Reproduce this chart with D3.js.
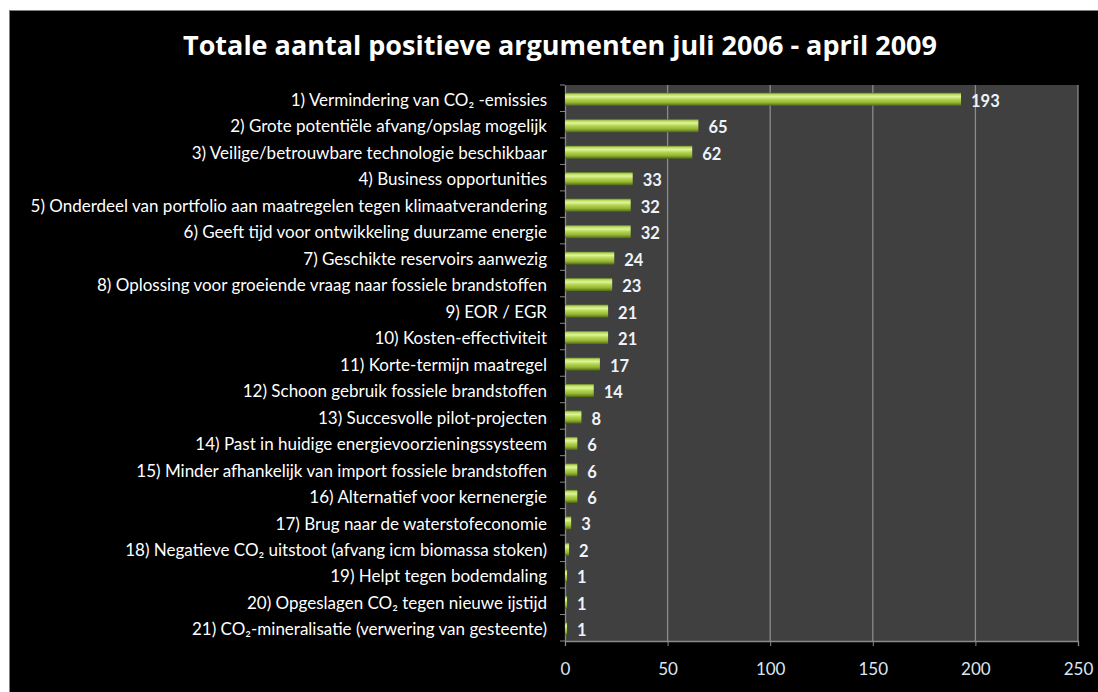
<!DOCTYPE html>
<html><head><meta charset="utf-8">
<script src="https://cdn.jsdelivr.net/npm/d3@7"></script>
<style>html,body{margin:0;padding:0;background:#fff;}svg{display:block;}</style>
</head><body>
<script>
const categories = [
 "1) Vermindering van CO₂ -emissies",
 "2) Grote potentiële afvang/opslag  mogelijk",
 "3) Veilige/betrouwbare technologie beschikbaar",
 "4) Business opportunities",
 "5) Onderdeel van portfolio aan  maatregelen tegen klimaatverandering",
 "6) Geeft tijd voor ontwikkeling duurzame energie",
 "7) Geschikte reservoirs aanwezig",
 "8) Oplossing voor groeiende vraag naar fossiele brandstoffen",
 "9) EOR / EGR",
 "10) Kosten-effectiviteit",
 "11) Korte-termijn maatregel",
 "12) Schoon gebruik fossiele brandstoffen",
 "13) Succesvolle pilot-projecten",
 "14) Past in huidige energievoorzieningssysteem",
 "15) Minder afhankelijk van import fossiele brandstoffen",
 "16) Alternatief voor kernenergie",
 "17) Brug naar de waterstofeconomie",
 "18) Negatieve CO₂ uitstoot (afvang icm biomassa  stoken)",
 "19) Helpt tegen bodemdaling",
 "20) Opgeslagen CO₂ tegen nieuwe ijstijd",
 "21) CO₂-mineralisatie (verwering van gesteente)"
];
const values = [193,65,62,33,32,32,24,23,21,21,17,14,8,6,6,6,3,2,1,1,1];
const xTicks = [0,50,100,150,200,250];
const title = "Totale aantal positieve argumenten juli 2006 - april 2009";

const W = 1098, H = 692;
const svg = d3.select("body").append("svg").attr("width", W).attr("height", H);
const font = "Lato, 'Open Sans', sans-serif";

// frame
svg.append("rect").attr("x", 9.5).attr("y", 10.5).attr("width", W).attr("height", H)
  .attr("fill", "#000").attr("stroke", "#7f7f7f");

const plot = {l: 565, r: 1078, t: 85, b: 641};
const x = d3.scaleLinear().domain([0, 250]).range([plot.l, plot.r]);
const y = d3.scaleBand().domain(categories).range([plot.t, plot.b]);

const defs = svg.append("defs");
const g = defs.append("linearGradient").attr("id", "barg").attr("x1", 0).attr("y1", 0).attr("x2", 0).attr("y2", 1);
[[0,"#5d7a18"],[0.12,"#b9d95e"],[0.3,"#dcf59a"],[0.5,"#b7d652"],[0.75,"#94b535"],[1,"#4f6a12"]]
  .forEach(([o,c]) => g.append("stop").attr("offset", o).attr("stop-color", c));

svg.append("rect").attr("x", plot.l).attr("y", plot.t).attr("width", plot.r - plot.l).attr("height", plot.b - plot.t)
  .attr("fill", "#404040");

// grid
svg.append("g").selectAll("line").data(xTicks.slice(1)).join("line")
  .attr("x1", d => x(d)).attr("x2", d => x(d)).attr("y1", plot.t).attr("y2", plot.b)
  .attr("stroke", "#8a8a8a").attr("stroke-width", 1.3);

// axes
const xAxis = svg.append("g").attr("transform", `translate(0,${plot.b})`)
  .call(d3.axisBottom(x).tickValues(xTicks).tickSize(5).tickPadding(17));
xAxis.select(".domain").attr("stroke", "#8a8a8a").attr("stroke-width", 1.3);
xAxis.selectAll(".tick line").attr("stroke", "#8a8a8a");
xAxis.selectAll("text").attr("fill", "#dce6f2").style("font-family", font).style("font-size", "17px");

const yAxis = svg.append("g").attr("transform", `translate(${plot.l},0)`)
  .call(d3.axisLeft(y).tickSize(0).tickPadding(18));
yAxis.select(".domain").attr("stroke", "#8a8a8a").attr("stroke-width", 1.3);
yAxis.selectAll("text").attr("fill", "#ffffff").attr("dy", "0.45em").style("font-family", font).style("font-size", "17px");
// boundary tick marks
svg.append("g").selectAll("line").data(d3.range(categories.length + 1)).join("line")
  .attr("x1", plot.l - 5).attr("x2", plot.l)
  .attr("y1", i => plot.t + i * y.step()).attr("y2", i => plot.t + i * y.step())
  .attr("stroke", "#8a8a8a");

// bars
const bh = 13;
svg.append("g").selectAll("rect").data(values).join("rect")
  .attr("x", x(0)).attr("y", (d, i) => y(categories[i]) + y.bandwidth() / 2 - bh / 2 + 1)
  .attr("width", d => x(d) - x(0)).attr("height", bh).attr("fill", "url(#barg)");

// value labels
svg.append("g").selectAll("text").data(values).join("text")
  .attr("x", d => x(d) + 10).attr("y", (d, i) => y(categories[i]) + y.bandwidth() / 2 + 2)
  .attr("dy", "0.4em").attr("fill", "#eef3fb").style("font-family", font)
  .style("font-size", "16.5px").style("font-weight", "bold").text(d => d);

// title
svg.append("text").attr("x", 560).attr("y", 55).attr("text-anchor", "middle")
  .attr("fill", "#fff").style("font-family", "'Open Sans', sans-serif").style("font-size", "27px").style("font-weight", "bold")
  .text(title);
</script>
</body></html>
